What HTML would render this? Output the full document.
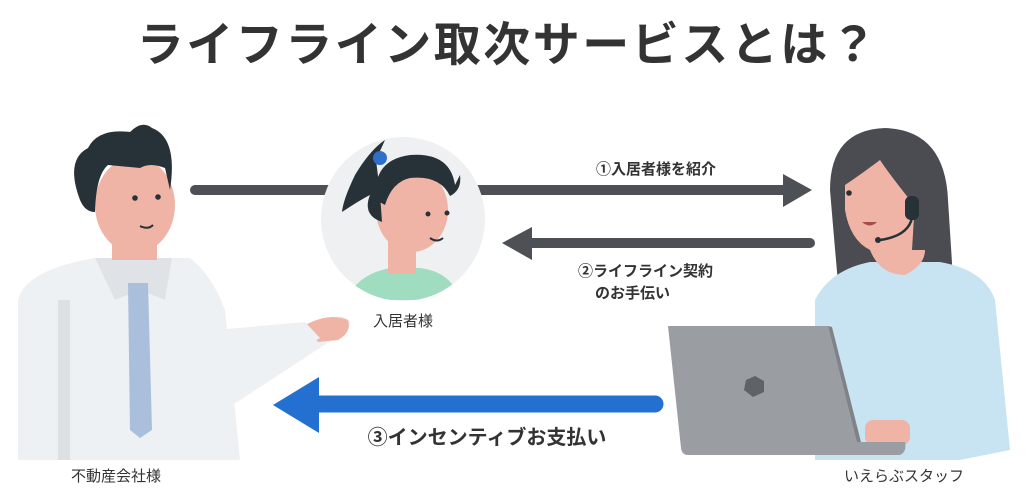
<!DOCTYPE html>
<html><head><meta charset="utf-8"><style>
html,body{margin:0;padding:0;background:#fff;}
svg{display:block;}
text{font-family:"Liberation Sans","Noto Sans CJK JP",sans-serif;}
</style></head><body>
<svg width="1026" height="503" viewBox="0 0 1026 503" xmlns="http://www.w3.org/2000/svg">
<rect width="1026" height="503" fill="#fff"/>
<text x="508" y="61" text-anchor="middle" font-size="47" font-weight="bold" fill="#333" letter-spacing="2.5">ライフライン取次サービスとは？</text>

<line x1="195" y1="190" x2="785" y2="190" stroke="#4d5055" stroke-width="10" stroke-linecap="round"/>
<polygon points="783,174 812,190 783,207" fill="#4d5055"/>
<line x1="810" y1="243" x2="530" y2="243" stroke="#4d5055" stroke-width="10" stroke-linecap="round"/>
<polygon points="532,227 502,243 532,260" fill="#4d5055"/>

<text x="656" y="174" text-anchor="middle" font-size="15" font-weight="bold" fill="#333">①入居者様を紹介</text>
<text x="578" y="276" font-size="15" font-weight="bold" fill="#333">②ライフライン契約</text>
<text x="595" y="298" font-size="15" font-weight="bold" fill="#333">のお手伝い</text>

<line x1="655" y1="404" x2="315" y2="404" stroke="#2370d0" stroke-width="17" stroke-linecap="round"/>
<polygon points="319,377 273,405 319,433" fill="#2370d0"/>
<text x="487" y="444" text-anchor="middle" font-size="20" font-weight="bold" fill="#333">③インセンティブお支払い</text>

<circle cx="403" cy="219" r="82" fill="#eef0f2"/>
<clipPath id="cc"><circle cx="403" cy="219" r="82"/></clipPath>
<g clip-path="url(#cc)">
<path d="M345,300 Q360,272 392,268 L420,268 Q452,272 460,300 Z" fill="#9fdcc0"/>
<rect x="388" y="240" width="28" height="34" fill="#f0b4a6"/>
<ellipse cx="412" cy="210" rx="36" ry="42" fill="#f0b4a6"/>
</g>
<path d="M376,200 Q372,160 410,155 Q450,152 455,185 L460,175 Q462,190 450,196 Q440,175 410,178 Q392,182 385,205 Z" fill="#263238"/>
<path d="M376,160 L385,140 Q370,150 355,175 Q343,200 342,212 Q360,200 370,195 Q362,215 382,222 Q380,190 376,160Z" fill="#263238"/>
<circle cx="380" cy="158" r="7" fill="#2d6fc9"/>
<circle cx="428" cy="214" r="2.5" fill="#263238"/><circle cx="447" cy="213" r="2.5" fill="#263238"/>
<path d="M430,238 Q437,243 443,238" stroke="#263238" stroke-width="2" fill="none"/>
<text x="403" y="326" text-anchor="middle" font-size="15" fill="#333">入居者様</text>

<!-- man -->
<path d="M330,318 Q345,314 350,322 Q348,332 335,338 L225,410 L215,360 Z" fill="#eef1f4"/>
<path d="M305,325 Q330,312 348,320 Q352,332 338,340 L318,342 Z" fill="#f0b4a6"/>
<path d="M18,460 L18,300 Q25,270 95,258 L190,258 Q212,275 225,310 L240,460 Z" fill="#eef1f4"/>
<path d="M215,330 Q225,345 230,390 L320,338 L305,322 Z" fill="#eef1f4"/>
<rect x="58" y="300" width="12" height="160" fill="#dde1e5"/>
<path d="M95,258 L115,300 L140,290 L165,300 L172,258 Z" fill="#dfe3e7"/>
<rect x="112" y="215" width="45" height="45" fill="#f0b4a6"/>
<ellipse cx="135" cy="205" rx="40" ry="48" fill="#f0b4a6"/>
<path d="M80,200 Q65,160 88,148 Q98,128 130,132 Q142,120 152,128 Q178,138 170,190 L165,168 Q150,162 140,168 L108,165 Q96,175 95,212 Q85,212 80,200 Z" fill="#263238"/>
<path d="M128,283 L148,283 L152,430 L140,438 L130,430 Z" fill="#a9bfdc"/>
<circle cx="135" cy="198" r="2.8" fill="#263238"/><circle cx="158" cy="197" r="2.8" fill="#263238"/>
<path d="M140,226 Q148,230 153,225" stroke="#263238" stroke-width="2" fill="none"/>
<text x="116" y="481" text-anchor="middle" font-size="15" fill="#333">不動産会社様</text>

<!-- woman -->
<path d="M830,190 Q830,130 885,128 Q945,130 948,200 L955,310 Q900,320 840,305 Q835,250 830,190Z" fill="#4b4b52"/>
<path d="M815,460 L815,300 Q830,270 870,262 L940,262 Q985,270 995,300 L1010,450 L960,460 Z" fill="#c8e4f2"/>
<path d="M870,250 Q880,275 905,275 Q925,265 925,250 Z" fill="#f0b4a6"/>
<path d="M845,185 Q850,160 885,158 Q905,175 915,200 L912,250 Q895,258 870,250 Q850,240 845,210Z" fill="#f0b4a6"/>
<path d="M845,185 Q850,150 890,150 Q915,165 920,200 L910,200 Q890,175 880,160 Q860,175 845,185Z" fill="#4b4b52"/>
<circle cx="849" cy="193" r="2.8" fill="#263238"/>
<path d="M862,222 Q870,229 877,222 Z" fill="#a84b4b"/>
<rect x="905" y="196" width="14" height="24" rx="6" fill="#263238"/>
<path d="M912,218 Q908,236 880,240" stroke="#263238" stroke-width="2.5" fill="none"/>
<circle cx="878" cy="240" r="3" fill="#263238"/>
<rect x="865" y="420" width="45" height="25" rx="8" fill="#f0b4a6"/>
<path d="M668,326 L828,326 L860,455 L688,455 Q682,455 681,448 Z" fill="#9a9ea3"/>
<path d="M828,326 L832,327 L863,450 L860,455 Z" fill="#7f8388"/>
<path d="M855,442 L905,442 Q907,452 900,455 L855,455 Z" fill="#9a9ea3"/>
<polygon points="746,380 755,376 764,381 764,392 753,397 744,390" fill="#5f6368"/>
<text x="904" y="481" text-anchor="middle" font-size="15" fill="#333">いえらぶスタッフ</text>
</svg>
</body></html>
